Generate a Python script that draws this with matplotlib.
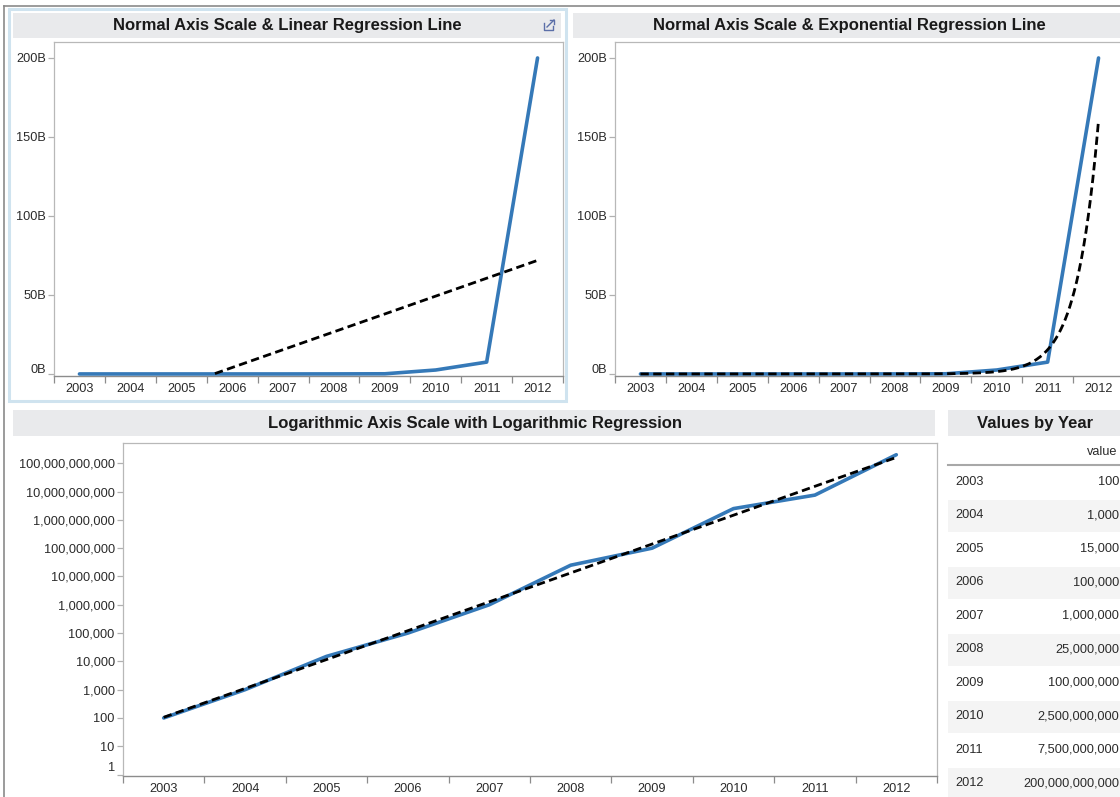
import numpy as np
import matplotlib
matplotlib.use("Agg")
import matplotlib.pyplot as plt
from matplotlib.patches import Rectangle
from matplotlib.ticker import FixedLocator, FuncFormatter, NullFormatter
import matplotlib.transforms as mtransforms

plt.rcParams['font.family'] = ['Liberation Sans', 'DejaVu Sans']

# ---- data ----
years = [2003, 2004, 2005, 2006, 2007, 2008, 2009, 2010, 2011, 2012]
values = [100, 1_000, 15_000, 100_000, 1_000_000, 25_000_000,
          100_000_000, 2_500_000_000, 7_500_000_000, 200_000_000_000]
linear_ticks = [0, 50e9, 100e9, 150e9, 200e9]
log_ticks = [1, 10, 100, 1e3, 1e4, 1e5, 1e6, 1e7, 1e8, 1e9, 1e10, 1e11]

titles = ["Normal Axis Scale & Linear Regression Line",
          "Normal Axis Scale & Exponential Regression Line",
          "Logarithmic Axis Scale with Logarithmic Regression",
          "Values by Year"]

W, H = 1120, 797
BLUE = "#3579b8"
TXT = "#2a2a2a"
TITLE_BG = "#e9eaec"
TICK_FS = 9.2
TITLE_FS = 12

x = np.array(years, dtype=float)
y = np.array(values, dtype=float)
grid = np.linspace(x[0], x[-1], 400)

lin_coef = np.polyfit(x, y, 1)
lin_fit = np.polyval(lin_coef, grid)
lin_fit = np.where(lin_fit >= 0, lin_fit, np.nan)
exp_coef = np.polyfit(x, np.log10(y), 1)
exp_fit = 10 ** np.polyval(exp_coef, grid)

fig = plt.figure(figsize=(W / 100, H / 100), dpi=100)
fig.patch.set_facecolor("white")


def px_axes(x0, y0, x1, y1, **kw):
    """Axes placed by pixel box (top-left origin)."""
    return fig.add_axes([x0 / W, 1 - y1 / H, (x1 - x0) / W, (y1 - y0) / H], **kw)


# background layer for dashboard chrome and the table
bg = px_axes(0, 0, W, H, zorder=0)
bg.set_xlim(0, W)
bg.set_ylim(H, 0)
bg.axis("off")

# outer dashboard frame
bg.plot([4, 4], [6, H], color="#8a8a8a", lw=1.2)
bg.plot([4, W], [6, 6], color="#8a8a8a", lw=1.2)
# selected-sheet highlight
bg.add_patch(Rectangle((9, 9), 557, 392, fill=False, ec="#cfe3ef", lw=2.2))

# title bars
bars = [(13, 13, 561, 38), (573, 13, W + 5, 38), (13, 410, 935, 436), (948, 410, W + 5, 436)]
centers = [(287, 25), (849, 25), (475, 423), (1035, 423)]
for (x0, y0, x1, y1), (cx, cy), t in zip(bars, centers, titles):
    bg.add_patch(Rectangle((x0, y0), x1 - x0, y1 - y0, fc=TITLE_BG, ec="none"))
    bg.text(cx, cy, t, ha="center", va="center", fontsize=TITLE_FS,
            fontweight="bold", color="#1a1a1a")

# small "open" icon in the first title bar
ix, iy = 544, 20
bg.plot([ix, ix, ix + 9, ix + 9], [iy + 3, iy + 10, iy + 10, iy + 6], color="#5b6fa8", lw=1)
bg.plot([ix + 3, ix + 10], [iy + 7, iy], color="#5b6fa8", lw=1)
bg.plot([ix + 6, ix + 10, ix + 10], [iy, iy, iy + 4], color="#5b6fa8", lw=1)

# ---- table ----
bg.text(1117, 452, "value", ha="right", va="center", fontsize=TICK_FS, color=TXT)
bg.plot([948, W], [465, 465], color="#a8a8a8", lw=1.5)
row_h = 33.5
for i, (yr, v) in enumerate(zip(years, values)):
    top = 465 + i * row_h
    if i % 2 == 1:
        bg.add_patch(Rectangle((948, top + 1), W - 948, row_h - 1, fc="#f4f4f4", ec="none"))
    cy = top + row_h / 2
    bg.text(955, cy, str(yr), ha="left", va="center", fontsize=TICK_FS, color=TXT)
    bg.text(1119, cy, f"{v:,}", ha="right", va="center", fontsize=TICK_FS, color=TXT)


def style_axes(ax):
    for side in ("top", "right", "left"):
        ax.spines[side].set_color("#b8b8b8")
        ax.spines[side].set_linewidth(0.9)
    ax.spines["bottom"].set_color("#8c8c8c")
    ax.spines["bottom"].set_linewidth(1.0)
    # half-year boundaries carry ticks, whole years carry labels
    ax.set_xlim(x[0] - 0.5, x[-1] + 0.5)
    ax.xaxis.set_major_locator(FixedLocator(np.arange(x[0] - 0.5, x[-1] + 1.0, 1.0)))
    ax.xaxis.set_major_formatter(NullFormatter())
    ax.xaxis.set_minor_locator(FixedLocator(x))
    ax.xaxis.set_minor_formatter(FuncFormatter(lambda v, p: f"{int(round(v))}"))
    ax.tick_params(axis="x", which="major", length=5, color="#8c8c8c", width=0.9)
    ax.tick_params(axis="x", which="minor", length=0, pad=5, labelsize=TICK_FS, labelcolor=TXT)
    ax.tick_params(axis="y", length=4, color="#b0b0b0", width=0.9, pad=2,
                   labelsize=TICK_FS, labelcolor=TXT)


def billions(v, p):
    return f"{int(round(v / 1e9))}B"


def lift_label(ax, text, points):
    """Shift the y tick label that reads `text` upward so it stays inside the pane."""
    for lbl in ax.get_yticklabels():
        if lbl.get_text() == text:
            lbl.set_transform(lbl.get_transform() +
                              mtransforms.ScaledTranslation(0, points / 72, fig.dpi_scale_trans))


LINE_KW = dict(color=BLUE, lw=2.6, solid_joinstyle="round", solid_capstyle="round", zorder=3)
TREND_KW = dict(color="black", lw=2.0, ls=(0, (3.0, 1.6)), zorder=4)

# ---- linear scale + linear regression ----
ax1 = px_axes(54, 42, 563, 376, zorder=2)
ax1.plot(x, y, **LINE_KW)
ax1.plot(grid, lin_fit, **TREND_KW)
ax1.set_ylim(-1.3e9, 210.1e9)
ax1.yaxis.set_major_locator(FixedLocator(linear_ticks))
ax1.yaxis.set_major_formatter(FuncFormatter(billions))
style_axes(ax1)

# ---- linear scale + exponential regression ----
ax2 = px_axes(615, 42, 1124, 376, zorder=2)
ax2.plot(x, y, **LINE_KW)
ax2.plot(grid, exp_fit, **TREND_KW)
ax2.set_ylim(-1.3e9, 210.1e9)
ax2.yaxis.set_major_locator(FixedLocator(linear_ticks))
ax2.yaxis.set_major_formatter(FuncFormatter(billions))
style_axes(ax2)

# ---- log scale + regression ----
ax3 = px_axes(123, 443, 937, 776, zorder=2)
ax3.set_yscale("log")
ax3.plot(x, y, **LINE_KW)
ax3.plot(grid, exp_fit, **TREND_KW)
ax3.set_ylim(0.89, 5.2e11)
ax3.yaxis.set_major_locator(FixedLocator(log_ticks))
ax3.yaxis.set_major_formatter(FuncFormatter(lambda v, p: f"{int(round(v)):,}"))
ax3.yaxis.set_minor_locator(FixedLocator([]))
style_axes(ax3)

fig.canvas.draw()
lift_label(ax1, "0B", 4)
lift_label(ax2, "0B", 4)
lift_label(ax3, "1", 6)

fig.savefig("out.png", dpi=100, facecolor="white")
